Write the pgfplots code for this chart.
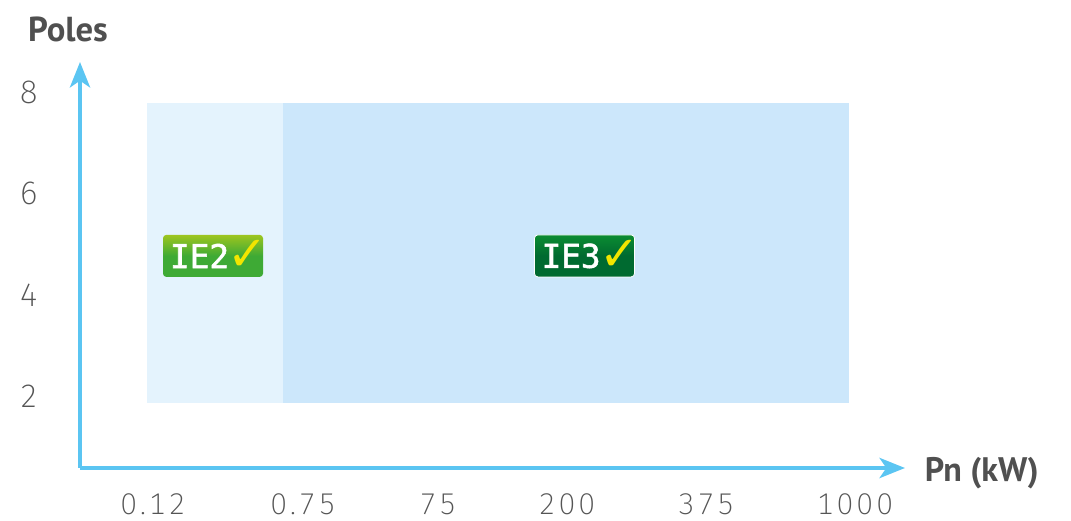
\documentclass[border=0pt]{standalone}
\usepackage{pgfplots}
\pgfplotsset{compat=1.18}
\usetikzlibrary{arrows.meta}
\usepackage{fontspec}
\setmainfont{Fira Sans}
\newfontfamily\ticklight[LetterSpace=10,Numbers=Monospaced]{Fira Sans ExtraLight}
\newfontfamily\ylight{Fira Sans ExtraLight}
\newfontfamily\headfont{PT Sans Bold}
\newfontfamily\badgefont[FakeBold=1.6]{DejaVu Sans Mono}
\newfontfamily\symfont{DejaVu Sans}
\definecolor{axisblue}{HTML}{5BC5F2}
\definecolor{ietwo}{HTML}{E4F3FD}
\definecolor{iethree}{HTML}{CCE7FB}
\definecolor{headgrey}{HTML}{505050}
\definecolor{tickgrey}{HTML}{555555}
\definecolor{checkyellow}{HTML}{F2E500}
\definecolor{twotop}{HTML}{9DC51F}
\definecolor{twomid}{HTML}{3EAA35}
\definecolor{threetop}{HTML}{0B8C31}
\definecolor{threemid}{HTML}{006A30}
\newcommand{\iecheck}{\raisebox{-2pt}[0pt][0pt]{\symfont\color{checkyellow}\fontsize{36}{36}\selectfont ✓}}
\begin{document}
\begin{tikzpicture}[x=0.75pt,y=0.75pt]
\useasboundingbox (-80,-53) rectangle (991,468);
\begin{axis}[
    scale only axis,
    width=618.75pt,
    height=304.5pt,
    xmin=80, xmax=905,
    ymin=0.57, ymax=8.61,
    axis lines=left,
    axis line style={line width=3.4pt, color=axisblue,
        -{Stealth[length=19pt,width=15pt,inset=5pt]}},
    xtick={153,303,438,567,706,855},
    xticklabels={0.12,0.75,75,200,375,1000},
    ytick={2,4,6,8},
    yticklabels={2,4,6,8},
    major tick length=0pt,
    xticklabel style={font=\fontsize{22.5}{24}\selectfont\ticklight, text=tickgrey,
        anchor=center, inner sep=0pt, yshift=-27pt},
    yticklabel style={font=\fontsize{25}{27}\selectfont\ylight, text=tickgrey,
        anchor=center, inner sep=0pt, xshift=-38.5pt},
    xlabel={Pn (kW)},
    ylabel={Poles},
    every axis x label/.style={at={(axis description cs:1.093,-0.012)}, anchor=center,
        font=\fontsize{25.5}{27}\selectfont\headfont, text=headgrey},
    every axis y label/.style={at={(axis description cs:-0.0145,1.079)}, anchor=center,
        font=\fontsize{26}{28}\selectfont\headfont, text=headgrey},
    clip=false,
    axis on top,
]
\addplot[fill=ietwo, draw=none] coordinates {(147,1.86) (283,1.86) (283,7.8) (147,7.8)} --cycle;
\addplot[fill=iethree, draw=none] coordinates {(283,1.86) (849,1.86) (849,7.8) (283,7.8)} --cycle;

% IE badges
\node[minimum width=75pt, minimum height=31.5pt, rounded corners=2.5pt, inner sep=0pt,
    top color=twotop, bottom color=twomid, middle color=twomid, text=white,
    font=\fontsize{24.5}{26}\selectfont\badgefont] at (axis cs:213,4.77)
    {\makebox[70pt][c]{\kern9pt IE2\kern-1pt\iecheck}};
\node[minimum width=75pt, minimum height=31.5pt, rounded corners=2.5pt, inner sep=0pt,
    draw=white, line width=0.6pt,
    top color=threetop, bottom color=threemid, middle color=threemid, text=white,
    font=\fontsize{24.5}{26}\selectfont\badgefont] at (axis cs:584.5,4.77)
    {\makebox[70pt][c]{\kern9pt IE3\kern-1pt\iecheck}};
\end{axis}
\end{tikzpicture}
\end{document}
